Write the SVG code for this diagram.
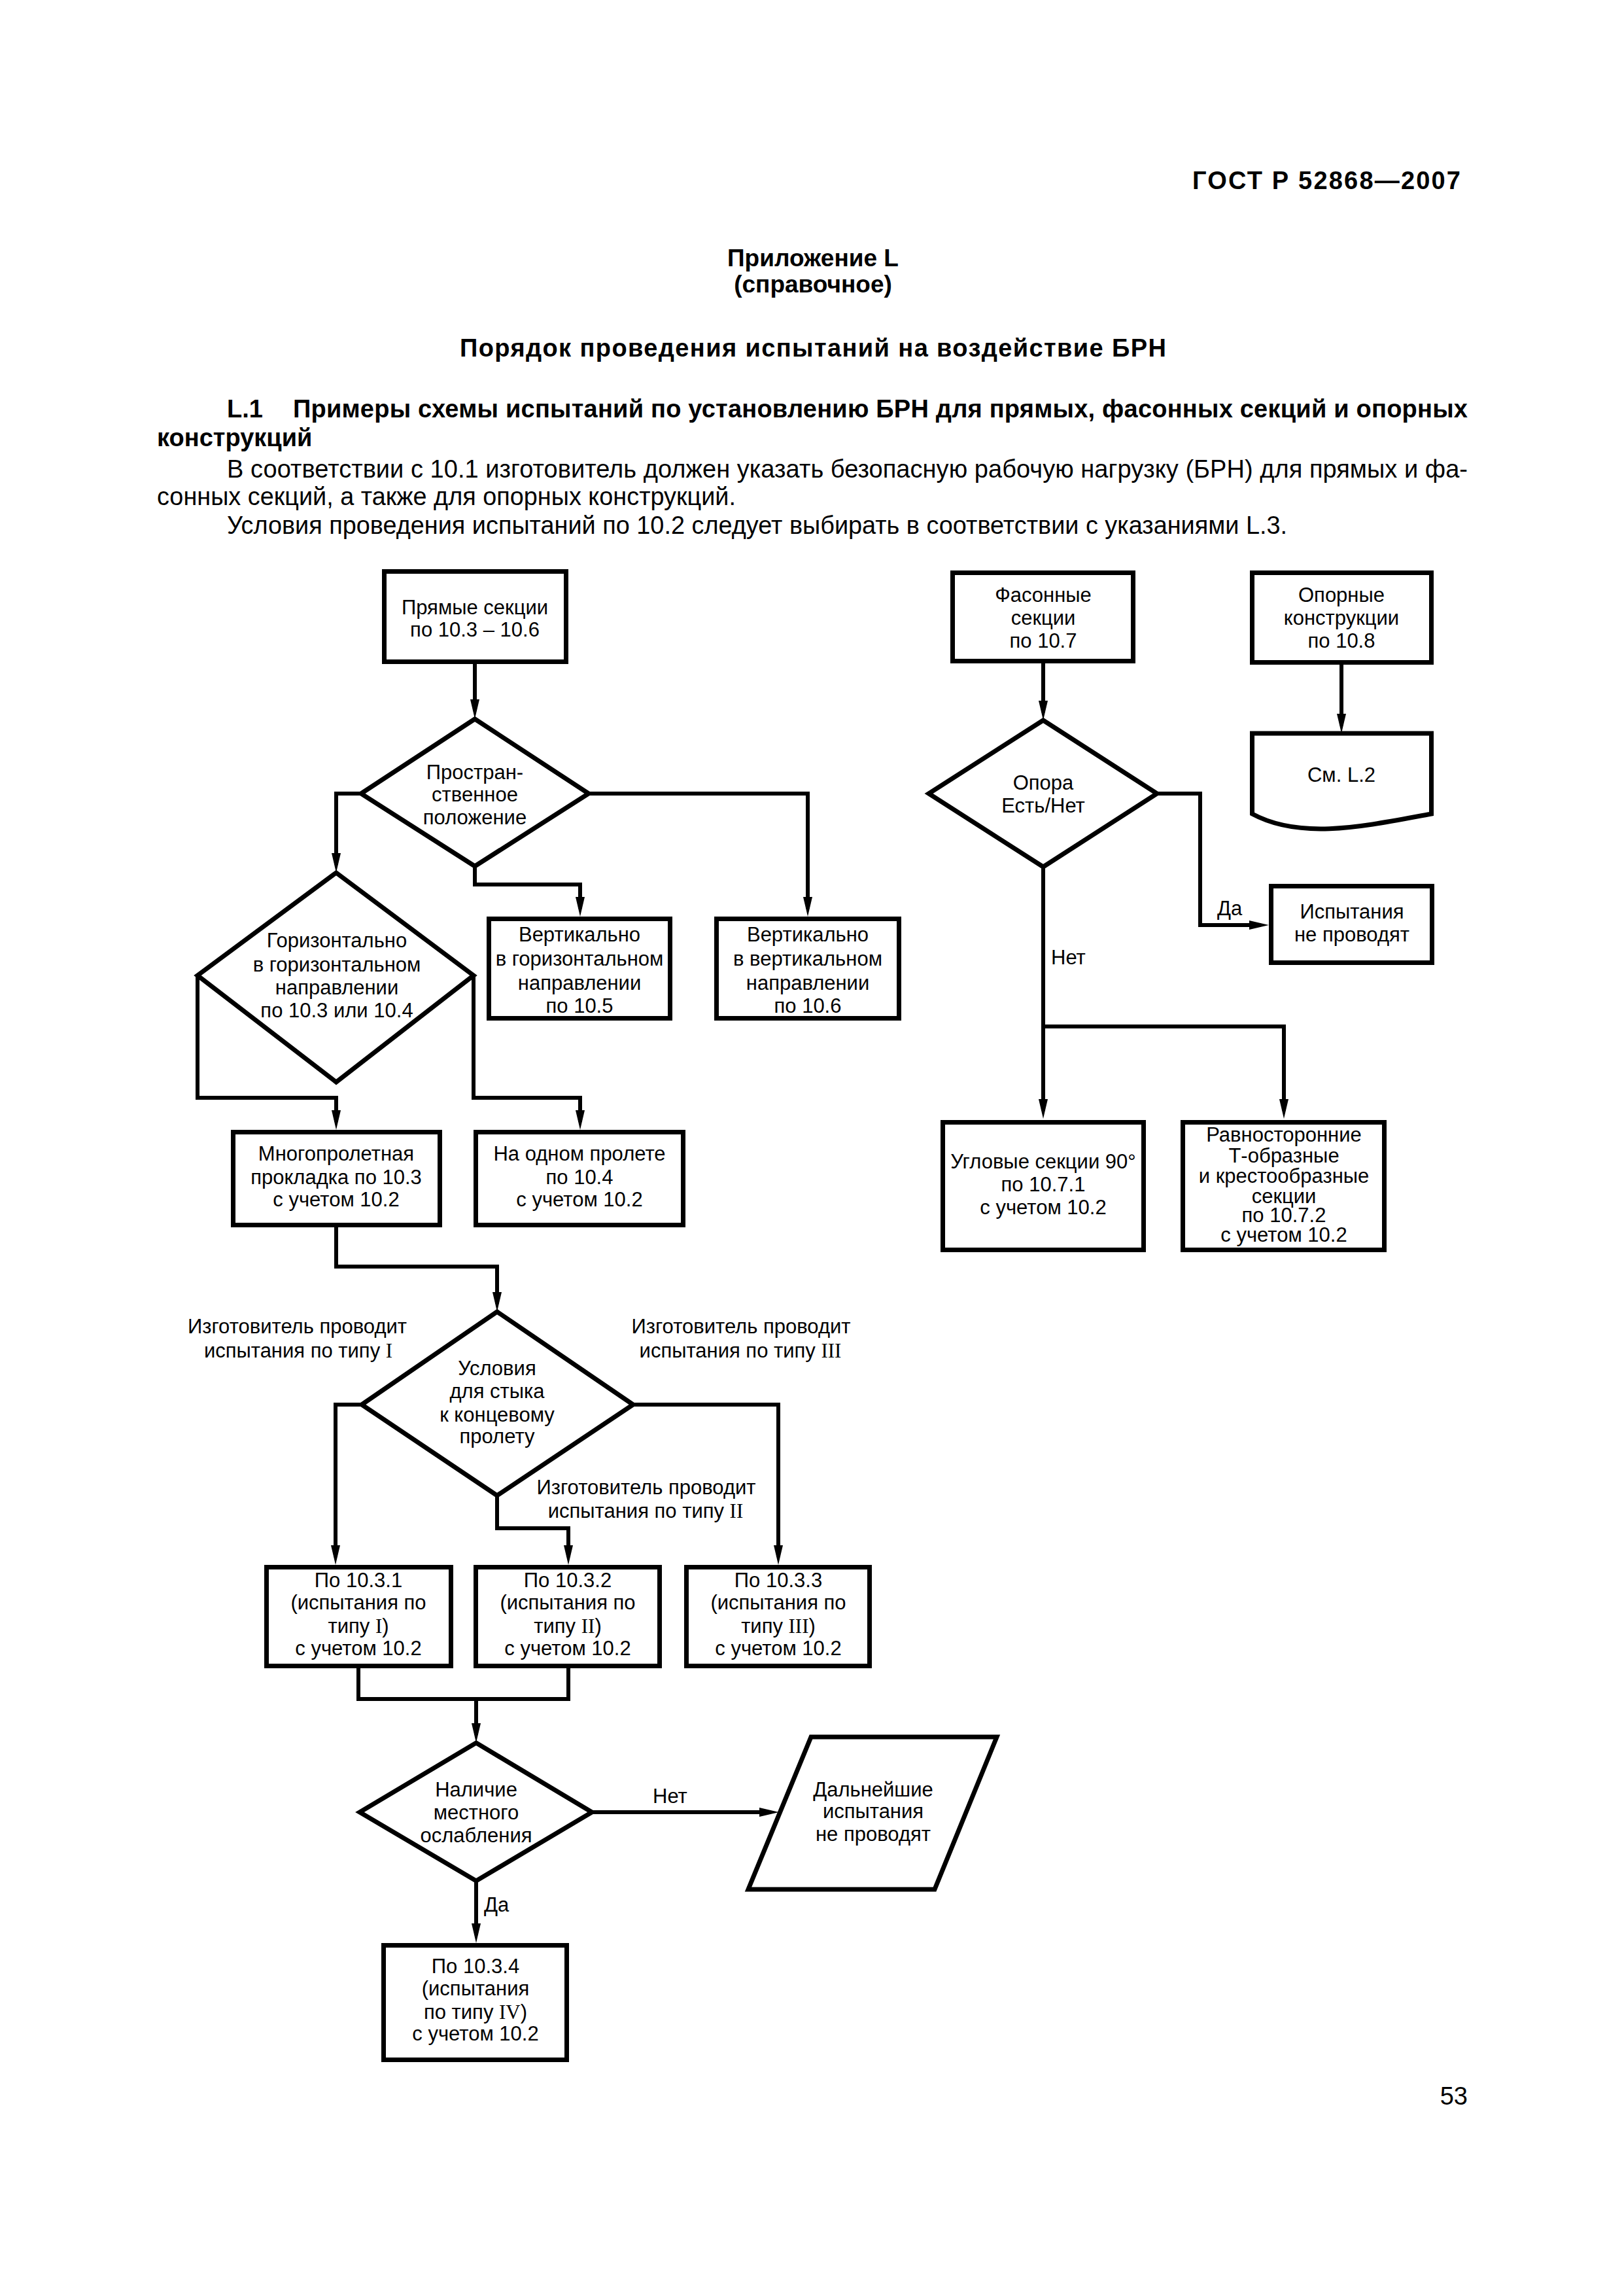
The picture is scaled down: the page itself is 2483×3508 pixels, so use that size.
<svg xmlns="http://www.w3.org/2000/svg" width="2483" height="3508" viewBox="0 0 2483 3508">
<style>
text{font-family:"Liberation Sans",Arial,sans-serif;fill:#000}
.pg{font-size:38px}
.b{font-weight:bold}
.c{text-anchor:middle}
.n{font-size:31px;text-anchor:middle}
.lb{font-size:31px}
.rm{font-family:"Liberation Serif","Times New Roman",serif}
.shape{fill:#fff;stroke:#000;stroke-width:7;stroke-linejoin:miter}
.con{fill:none;stroke:#000;stroke-width:6}
.arr{marker-end:url(#ah)}
</style>
<defs>
<marker id="ah" markerUnits="userSpaceOnUse" viewBox="0 0 30 14" markerWidth="30" markerHeight="14" refX="18" refY="7" orient="auto">
<path d="M0,0 L30,7 L0,14 z" fill="#000"/>
</marker>
</defs>
<rect width="2483" height="3508" fill="#fff"/>

<g id="page-text">
<text class="b" x="1823" y="289" font-size="38" textLength="410" lengthAdjust="spacing">ГОСТ Р  52868—2007</text>
<text class="b c" x="1243" y="407" font-size="37">Приложение L</text>
<text class="b c" x="1243" y="447" font-size="37">(справочное)</text>
<text class="b c" x="1243" y="545" font-size="38" textLength="1080" lengthAdjust="spacing">Порядок проведения испытаний на воздействие БРН</text>
<text class="pg b" x="347" y="638">L.1</text>
<text class="pg b" x="448" y="638" textLength="1796" lengthAdjust="spacing">Примеры схемы испытаний по установлению БРН для прямых, фасонных секций и опорных</text>
<text class="pg b" x="240" y="682">конструкций</text>
<text class="pg" x="347" y="730" textLength="1897" lengthAdjust="spacing">В соответствии с 10.1 изготовитель должен указать безопасную рабочую нагрузку (БРН) для прямых и фа-</text>
<text class="pg" x="240" y="772" textLength="885" lengthAdjust="spacingAndGlyphs">сонных секций, а также для опорных конструкций.</text>
<text class="pg" x="347" y="816" textLength="1621" lengthAdjust="spacingAndGlyphs">Условия проведения испытаний по 10.2 следует выбирать в соответствии с указаниями L.3.</text>
<text class="pg" x="2244" y="3217" text-anchor="end">53</text>
</g>

<g id="connectors">
<path class="con arr" d="M726,1015 V1087"/>
<path class="con arr" d="M552,1213 H514 V1322"/>
<path class="con arr" d="M726,1324 V1352 H887 V1389"/>
<path class="con arr" d="M900,1213 H1235 V1389"/>
<path class="con arr" d="M302,1491 V1678 H514 V1715"/>
<path class="con arr" d="M724,1491 V1678 H887 V1715"/>
<path class="con arr" d="M514,1876 V1936 H760 V1993"/>
<path class="con arr" d="M553,2147 H513 V2380"/>
<path class="con arr" d="M760,2286 V2336 H869 V2380"/>
<path class="con arr" d="M968,2147 H1190 V2380"/>
<path class="con" d="M548,2550 V2597 H869 V2550"/>
<path class="con arr" d="M728,2597 V2652"/>
<path class="con arr" d="M905,2770 H1179"/>
<path class="con arr" d="M728,2875 V2958"/>
<path class="con arr" d="M1595,1014 V1089"/>
<path class="con arr" d="M2051,1016 V1109"/>
<path class="con arr" d="M1769,1213 H1835 V1414 H1928"/>
<path class="con arr" d="M1595,1325 V1698"/>
<path class="con arr" d="M1595,1569 H1963 V1698"/>
<text class="lb" x="287" y="2038">Изготовитель проводит</text>
<text class="lb c" x="456" y="2075">испытания по типу <tspan class="rm">I</tspan></text>
<text class="lb c" x="1133" y="2038">Изготовитель проводит</text>
<text class="lb c" x="1132" y="2075">испытания по типу <tspan class="rm">III</tspan></text>
<text class="lb c" x="988" y="2284">Изготовитель проводит</text>
<text class="lb c" x="987" y="2320">испытания по типу <tspan class="rm">II</tspan></text>
<text class="lb" x="998" y="2756">Нет</text>
<text class="lb" x="740" y="2922">Да</text>
<text class="lb" x="1861" y="1399">Да</text>
<text class="lb" x="1607" y="1474">Нет</text>
</g>

<g id="node-straight">
<rect class="shape" x="587.5" y="873.5" width="278" height="138"/>
<text class="n" x="726" y="939">Прямые секции</text>
<text class="n" x="726" y="973">по 10.3 – 10.6</text>
</g>
<g id="node-position">
<polygon class="shape" points="726,1099 900,1213 726,1324 552,1213"/>
<text class="n" x="726" y="1191">Простран-</text>
<text class="n" x="726" y="1225">ственное</text>
<text class="n" x="726" y="1260">положение</text>
</g>
<g id="node-vert-horiz">
<rect class="shape" x="747.5" y="1404.5" width="277" height="152"/>
<text class="n" x="886" y="1439">Вертикально</text>
<text class="n" x="886" y="1476">в горизонтальном</text>
<text class="n" x="886" y="1513">направлении</text>
<text class="n" x="886" y="1548">по 10.5</text>
</g>
<g id="node-vert-vert">
<rect class="shape" x="1095.5" y="1404.5" width="279" height="152"/>
<text class="n" x="1235" y="1439">Вертикально</text>
<text class="n" x="1235" y="1476">в вертикальном</text>
<text class="n" x="1235" y="1513">направлении</text>
<text class="n" x="1235" y="1548">по 10.6</text>
</g>
<g id="node-horiz">
<polygon class="shape" points="514,1334 724,1491 514,1654 302,1491"/>
<text class="n" x="515" y="1448">Горизонтально</text>
<text class="n" x="515" y="1485">в горизонтальном</text>
<text class="n" x="515" y="1520">направлении</text>
<text class="n" x="515" y="1555">по 10.3 или 10.4</text>
</g>
<g id="node-multispan">
<rect class="shape" x="356.5" y="1730.5" width="316" height="142"/>
<text class="n" x="514" y="1774">Многопролетная</text>
<text class="n" x="514" y="1810">прокладка по 10.3</text>
<text class="n" x="514" y="1844">с учетом 10.2</text>
</g>
<g id="node-singlespan">
<rect class="shape" x="727.5" y="1730.5" width="317" height="142"/>
<text class="n" x="886" y="1774">На одном пролете</text>
<text class="n" x="886" y="1810">по 10.4</text>
<text class="n" x="886" y="1844">с учетом 10.2</text>
</g>
<g id="node-joint">
<polygon class="shape" points="760,2005 968,2147 760,2286 553,2147"/>
<text class="n" x="760" y="2102">Условия</text>
<text class="n" x="760" y="2137">для стыка</text>
<text class="n" x="760" y="2173">к концевому</text>
<text class="n" x="760" y="2206">пролету</text>
</g>
<g id="node-1031">
<rect class="shape" x="407.5" y="2395.5" width="282" height="151"/>
<text class="n" x="548" y="2426">По 10.3.1</text>
<text class="n" x="548" y="2460">(испытания по</text>
<text class="n" x="548" y="2496">типу <tspan class="rm">I</tspan>)</text>
<text class="n" x="548" y="2530">с учетом 10.2</text>
</g>
<g id="node-1032">
<rect class="shape" x="727.5" y="2395.5" width="281" height="151"/>
<text class="n" x="868" y="2426">По 10.3.2</text>
<text class="n" x="868" y="2460">(испытания по</text>
<text class="n" x="868" y="2496">типу <tspan class="rm">II</tspan>)</text>
<text class="n" x="868" y="2530">с учетом 10.2</text>
</g>
<g id="node-1033">
<rect class="shape" x="1049.5" y="2395.5" width="280" height="151"/>
<text class="n" x="1190" y="2426">По 10.3.3</text>
<text class="n" x="1190" y="2460">(испытания по</text>
<text class="n" x="1190" y="2496">типу <tspan class="rm">III</tspan>)</text>
<text class="n" x="1190" y="2530">с учетом 10.2</text>
</g>
<g id="node-weakening">
<polygon class="shape" points="728,2664 905,2770 728,2875 550,2770"/>
<text class="n" x="728" y="2746">Наличие</text>
<text class="n" x="728" y="2781">местного</text>
<text class="n" x="728" y="2816">ослабления</text>
</g>
<g id="node-no-further">
<polygon class="shape" points="1240,2655 1524,2655 1429,2888 1144,2888"/>
<text class="n" x="1335" y="2746">Дальнейшие</text>
<text class="n" x="1335" y="2779">испытания</text>
<text class="n" x="1335" y="2814">не проводят</text>
</g>
<g id="node-1034">
<rect class="shape" x="586.5" y="2973.5" width="280" height="175"/>
<text class="n" x="727" y="3016">По 10.3.4</text>
<text class="n" x="727" y="3050">(испытания</text>
<text class="n" x="727" y="3086">по типу <tspan class="rm">IV</tspan>)</text>
<text class="n" x="727" y="3119">с учетом 10.2</text>
</g>

<g id="node-fitting">
<rect class="shape" x="1456.5" y="875.5" width="276" height="135"/>
<text class="n" x="1595" y="920">Фасонные</text>
<text class="n" x="1595" y="955">секции</text>
<text class="n" x="1595" y="990">по 10.7</text>
</g>
<g id="node-support">
<rect class="shape" x="1914.5" y="875.5" width="274" height="137"/>
<text class="n" x="2051" y="920">Опорные</text>
<text class="n" x="2051" y="955">конструкции</text>
<text class="n" x="2051" y="990">по 10.8</text>
</g>
<g id="node-see-l2">
<path class="shape" d="M1914.5,1121 H2188.5 V1244 C2090,1262 1990,1285 1914.5,1244 Z"/>
<text class="n" x="2051" y="1195">См. L.2</text>
</g>
<g id="node-support-q">
<polygon class="shape" points="1595,1101 1769,1213 1595,1325 1420,1213"/>
<text class="n" x="1595" y="1207">Опора</text>
<text class="n" x="1595" y="1242">Есть/Нет</text>
</g>
<g id="node-no-tests">
<rect class="shape" x="1943.5" y="1354.5" width="246" height="117"/>
<text class="n" x="2067" y="1404">Испытания</text>
<text class="n" x="2067" y="1439">не проводят</text>
</g>
<g id="node-angle">
<rect class="shape" x="1441.5" y="1715.5" width="307" height="195"/>
<text class="n" x="1595" y="1786">Угловые секции 90°</text>
<text class="n" x="1595" y="1821">по 10.7.1</text>
<text class="n" x="1595" y="1856">с учетом 10.2</text>
</g>
<g id="node-tee">
<rect class="shape" x="1808.5" y="1715.5" width="308" height="195"/>
<text class="n" x="1963" y="1745">Равносторонние</text>
<text class="n" x="1963" y="1777">Т-образные</text>
<text class="n" x="1963" y="1808">и крестообразные</text>
<text class="n" x="1963" y="1839">секции</text>
<text class="n" x="1963" y="1868">по 10.7.2</text>
<text class="n" x="1963" y="1898">с учетом 10.2</text>
</g>
</svg>
